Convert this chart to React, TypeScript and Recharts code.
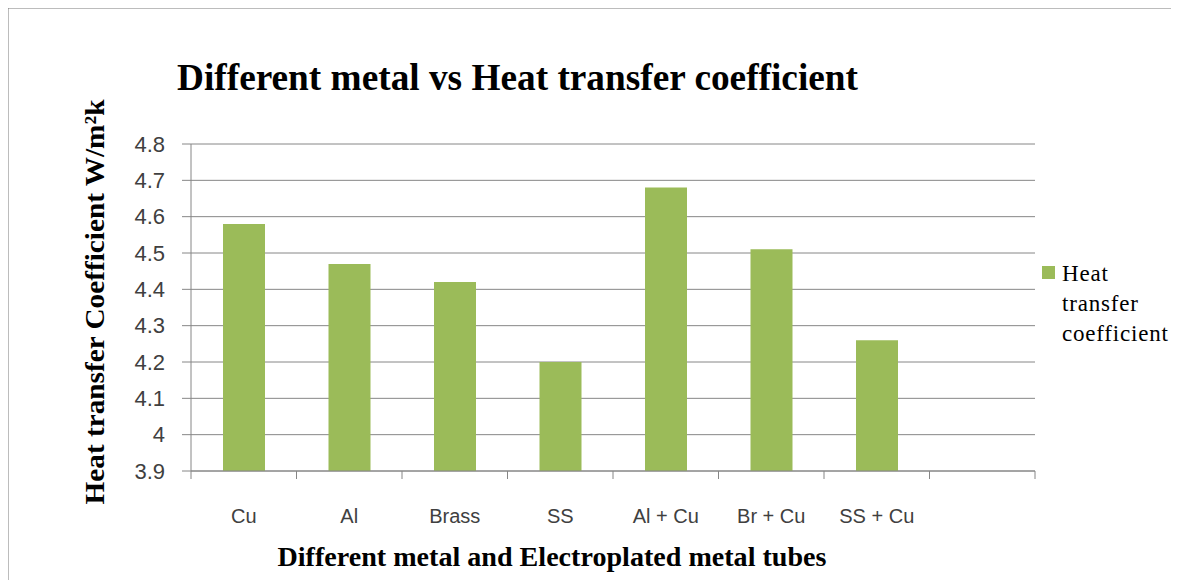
import React from "react";
import {
  BarChart,
  Bar,
  XAxis,
  YAxis,
  CartesianGrid,
  Legend,
} from "recharts";

// categories along the x axis (last slot is empty in the original sheet)
const categories: string[] = ["Cu", "Al", "Brass", "SS", "Al + Cu", "Br + Cu", "SS + Cu", ""];
const htcValues: (number | null)[] = [4.58, 4.47, 4.42, 4.2, 4.68, 4.51, 4.26, null];
const yTicks: number[] = [3.9, 4.0, 4.1, 4.2, 4.3, 4.4, 4.5, 4.6, 4.7, 4.8];
const seriesName = "Heat transfer coefficient";

const data = categories.map((c, i) => ({ name: c, htc: htcValues[i] }));

const W = 1179;
const H = 580;
const LEFT = 191;
const RIGHT = 144;
const TOP = 144;
const BOTTOM = 109;
const BAND = (W - LEFT - RIGHT) / categories.length;

const GRID = "#868686";
const GREEN = "#9bbb59";
const SANS = "'Liberation Sans', Arial, sans-serif";
const SERIF = "'Liberation Serif', 'Times New Roman', serif";

const fmt = (v: number) => String(Number(v.toFixed(1)));

const CategoryTick = (props: any) => {
  const { x, y, payload, index } = props;
  const last = index === categories.length - 1;
  return (
    <g>
      <line x1={x - BAND / 2} x2={x - BAND / 2} y1={y} y2={y + 8} stroke={GRID} />
      {last && <line x1={x + BAND / 2} x2={x + BAND / 2} y1={y} y2={y + 8} stroke={GRID} />}
      <text x={x} y={y + 52} textAnchor="middle" fontFamily={SANS} fontSize={20} fill="#404040">
        {payload.value}
      </text>
    </g>
  );
};

// legend drawn absolutely so it doesn't eat into the plot area
const LegendBox = () => (
  <div
    style={{
      position: "absolute",
      left: 0,
      top: 0,
      display: "flex",
      fontFamily: SERIF,
      fontSize: 23,
      color: "#000",
      letterSpacing: 0.8,
      whiteSpace: "nowrap",
    }}
  >
    <div style={{ width: 13, height: 13, background: GREEN, marginTop: 7, marginRight: 7 }} />
    <div style={{ lineHeight: "30px" }}>
      {seriesName.split(" ").map((w) => (
        <div key={w}>{w}</div>
      ))}
    </div>
  </div>
);

export default function App() {
  return (
    <div style={{ position: "relative", width: W, height: H, margin: "-8px 0 0 -8px", background: "#fff" }}>
      <BarChart
        width={W}
        height={H}
        data={data}
        margin={{ top: TOP, right: RIGHT, bottom: 0, left: 0 }}
      >
        <CartesianGrid vertical={false} stroke={GRID} />
        <XAxis
          dataKey="name"
          height={BOTTOM}
          stroke={GRID}
          tickLine={false}
          tickSize={0}
          tickMargin={0}
          interval={0}
          tick={<CategoryTick />}
        />
        <YAxis
          width={LEFT}
          domain={[3.9, 4.8]}
          ticks={yTicks}
          interval={0}
          tickFormatter={fmt}
          stroke={GRID}
          tickSize={9}
          tickMargin={17}
          tick={{ fontFamily: SANS, fontSize: 22, fill: "#404040" }}
          allowDataOverflow
        />
        <Legend
          content={<LegendBox />}
          wrapperStyle={{ position: "absolute", left: 1042, top: 259, width: 0, height: 0, overflow: "visible" }}
        />
        <Bar dataKey="htc" name={seriesName} fill={GREEN} barSize={42} isAnimationActive={false} />
      </BarChart>
      <svg
        width={W}
        height={H}
        style={{ position: "absolute", left: 0, top: 0, pointerEvents: "none" }}
      >
        <path d={`M7,${H} V7 H${W}`} fill="none" stroke="#7a7a7a" strokeWidth={3} />
        <text x={177} y={90} fontFamily={SERIF} fontWeight="bold" fontSize={37} fill="#000"
          textLength={681} lengthAdjust="spacingAndGlyphs">
          Different metal vs Heat transfer coefficient
        </text>
        <text
          transform="translate(104,302) rotate(-90)"
          textAnchor="middle"
          fontFamily={SERIF}
          fontWeight="bold"
          fontSize={28}
          fill="#000"
          textLength={405}
          lengthAdjust="spacingAndGlyphs"
        >
          Heat transfer Coefficient W/m²k
        </text>
        <text x={552} y={566} textAnchor="middle" fontFamily={SERIF} fontWeight="bold" fontSize={27}
          fill="#000" textLength={549} lengthAdjust="spacingAndGlyphs">
          Different metal and Electroplated metal tubes
        </text>
      </svg>
    </div>
  );
}
